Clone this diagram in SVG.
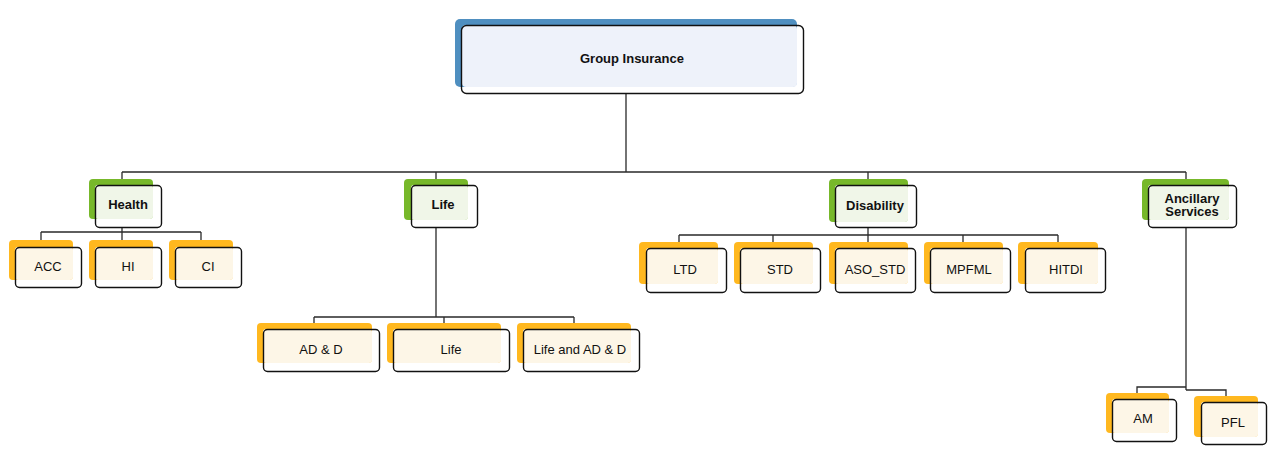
<svg xmlns="http://www.w3.org/2000/svg" width="1274" height="453" viewBox="0 0 1274 453">
<style>
.bg{fill:#ffffff}
.top{fill:#4f8fc0}
.grn{fill:#77b82a}
.org{fill:#ffb81f}
.ltop{fill:#eef2fa}
.lgrn{fill:#f0f6e8}
.lorg{fill:#fdf6e7}
.fr{fill:none;stroke:#111;stroke-width:1.4}
.t{font-family:"Liberation Sans",Arial,sans-serif;font-size:13px;fill:#111;text-anchor:middle}
.b{font-weight:bold}
.c{fill:none;stroke:#2a2a2a;stroke-width:1.3}
</style>
<rect class="bg" x="0" y="0" width="1274" height="453"/>
<g id="connectors">
<path class="c" d="M626 94V172M122 172H1186M122 172V185M436 172V185M868 172V185M1186 172V185"/>
<path class="c" d="M122 227V232M41 232H201M41 232V247M122 232V247M201 232V247"/>
<path class="c" d="M436 227V317M314 317H574M314 317V329M444 317V329M574 317V329"/>
<path class="c" d="M868 228V235M679 235H1058M679 235V248M773 235V248M868 235V248M963 235V248M1058 235V248"/>
<path class="c" d="M1186 227V390M1186 387H1137V399M1186 390H1226V402"/>
</g>
<g id="group-insurance">
<rect class="top" x="455" y="19" width="342" height="68" rx="5"/>
<rect class="ltop" x="462" y="25" width="335" height="62" rx="4"/>
<rect class="fr" x="461.5" y="25.5" width="342" height="68" rx="5"/>
<text class="t b" x="632" y="63">Group Insurance</text>
</g>
<g id="health">
<rect class="grn" x="89" y="179" width="64" height="40" rx="4"/>
<rect class="lgrn" x="95" y="185" width="58" height="34" rx="3"/>
<rect class="fr" x="95.5" y="185.5" width="66" height="42" rx="4"/>
<text class="t b" x="128" y="209">Health</text>
</g>
<g id="acc">
<rect class="org" x="9" y="240" width="64" height="40" rx="4"/>
<rect class="lorg" x="15" y="247" width="58" height="33" rx="3"/>
<rect class="fr" x="15.5" y="247.5" width="66" height="40" rx="4"/>
<text class="t" x="48" y="271">ACC</text>
</g>
<g id="hi">
<rect class="org" x="89" y="240" width="64" height="40" rx="4"/>
<rect class="lorg" x="95" y="247" width="58" height="33" rx="3"/>
<rect class="fr" x="95.5" y="247.5" width="66" height="40" rx="4"/>
<text class="t" x="128" y="271">HI</text>
</g>
<g id="ci">
<rect class="org" x="169" y="240" width="64" height="40" rx="4"/>
<rect class="lorg" x="175" y="247" width="58" height="33" rx="3"/>
<rect class="fr" x="175.5" y="247.5" width="66" height="40" rx="4"/>
<text class="t" x="208" y="271">CI</text>
</g>
<g id="life">
<rect class="grn" x="404" y="179" width="64" height="41" rx="4"/>
<rect class="lgrn" x="411" y="185" width="57" height="35" rx="3"/>
<rect class="fr" x="411.5" y="185.5" width="66" height="42" rx="4"/>
<text class="t b" x="443" y="209">Life</text>
</g>
<g id="adnd">
<rect class="org" x="257" y="323" width="115" height="40" rx="4"/>
<rect class="lorg" x="263" y="329" width="109" height="34" rx="3"/>
<rect class="fr" x="263.5" y="329.5" width="116" height="42" rx="4"/>
<text class="t" x="321" y="354">AD &amp; D</text>
</g>
<g id="life-leaf">
<rect class="org" x="387" y="323" width="114" height="40" rx="4"/>
<rect class="lorg" x="393" y="329" width="108" height="34" rx="3"/>
<rect class="fr" x="393.5" y="329.5" width="116" height="42" rx="4"/>
<text class="t" x="451" y="354">Life</text>
</g>
<g id="life-adnd">
<rect class="org" x="517" y="323" width="114" height="40" rx="4"/>
<rect class="lorg" x="523" y="329" width="108" height="34" rx="3"/>
<rect class="fr" x="523.5" y="329.5" width="116" height="42" rx="4"/>
<text class="t" x="580" y="354">Life and AD &amp; D</text>
</g>
<g id="disability">
<rect class="grn" x="829" y="179" width="79" height="43" rx="4"/>
<rect class="lgrn" x="835" y="185" width="73" height="37" rx="3"/>
<rect class="fr" x="835.5" y="185.5" width="81" height="42" rx="4"/>
<text class="t b" x="875" y="210">Disability</text>
</g>
<g id="ltd">
<rect class="org" x="639" y="242" width="79" height="42" rx="4"/>
<rect class="lorg" x="646" y="248" width="72" height="36" rx="3"/>
<rect class="fr" x="646.5" y="248.5" width="80" height="44" rx="4"/>
<text class="t" x="685" y="274">LTD</text>
</g>
<g id="std">
<rect class="org" x="734" y="242" width="79" height="42" rx="4"/>
<rect class="lorg" x="740" y="248" width="73" height="36" rx="3"/>
<rect class="fr" x="740.5" y="248.5" width="80" height="44" rx="4"/>
<text class="t" x="780" y="274">STD</text>
</g>
<g id="aso-std">
<rect class="org" x="829" y="242" width="79" height="42" rx="4"/>
<rect class="lorg" x="835" y="248" width="73" height="36" rx="3"/>
<rect class="fr" x="835.5" y="248.5" width="80" height="44" rx="4"/>
<text class="t" x="875" y="274">ASO_STD</text>
</g>
<g id="mpfml">
<rect class="org" x="924" y="242" width="79" height="42" rx="4"/>
<rect class="lorg" x="930" y="248" width="73" height="36" rx="3"/>
<rect class="fr" x="930.5" y="248.5" width="80" height="44" rx="4"/>
<text class="t" x="969" y="274">MPFML</text>
</g>
<g id="hitdi">
<rect class="org" x="1018" y="242" width="80" height="42" rx="4"/>
<rect class="lorg" x="1025" y="248" width="73" height="36" rx="3"/>
<rect class="fr" x="1025.5" y="248.5" width="80" height="44" rx="4"/>
<text class="t" x="1066" y="274">HITDI</text>
</g>
<g id="ancillary">
<rect class="grn" x="1142" y="179" width="87" height="41" rx="4"/>
<rect class="lgrn" x="1148" y="185" width="81" height="35" rx="3"/>
<rect class="fr" x="1148.5" y="185.5" width="88" height="42" rx="4"/>
<text class="t b" x="1192" y="203">Ancillary</text>
<text class="t b" x="1192" y="216">Services</text>
</g>
<g id="am">
<rect class="org" x="1106" y="393" width="63" height="40" rx="4"/>
<rect class="lorg" x="1112" y="399" width="57" height="34" rx="3"/>
<rect class="fr" x="1112.5" y="399.5" width="64" height="42" rx="4"/>
<text class="t" x="1143" y="423">AM</text>
</g>
<g id="pfl">
<rect class="org" x="1194" y="396" width="64" height="41" rx="4"/>
<rect class="lorg" x="1201" y="402" width="57" height="35" rx="3"/>
<rect class="fr" x="1201.5" y="402.5" width="65" height="42" rx="4"/>
<text class="t" x="1233" y="427">PFL</text>
</g>
</svg>
